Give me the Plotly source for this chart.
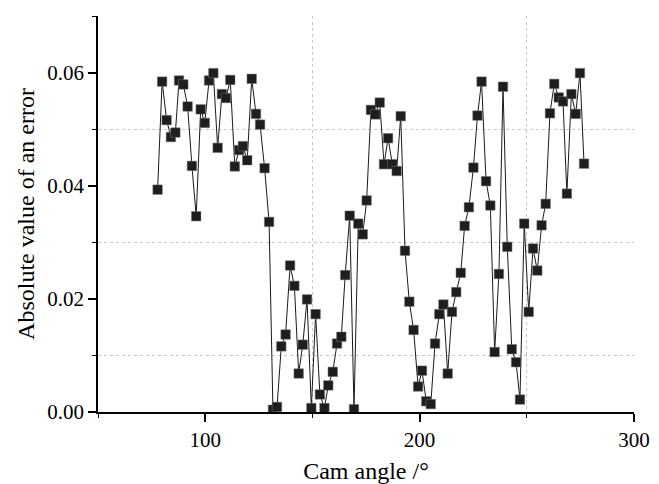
import plotly.graph_objects as go

cam_angle = [77.8, 79.9, 82.0, 84.0, 86.1, 87.8, 89.8, 91.8, 93.8, 95.8,
             97.9, 99.8, 101.8, 103.8, 105.8, 107.8, 109.7, 111.7, 113.8, 115.8,
             117.6, 119.6, 121.7, 123.7, 125.6, 127.7, 129.8, 131.6, 133.5, 135.5,
             137.5, 139.6, 141.6, 143.6, 145.5, 147.5, 149.5, 151.5, 153.5, 155.6,
             157.4, 159.5, 161.5, 163.5, 165.3, 167.4, 169.4, 171.4, 173.5, 175.3,
             177.3, 179.3, 181.4, 183.4, 185.3, 187.3, 189.3, 191.2, 193.2, 195.2,
             197.2, 199.3, 201.1, 203.1, 205.2, 207.2, 209.2, 211.1, 213.1, 215.1,
             217.1, 219.2, 221.0, 223.0, 225.1, 227.0, 228.9, 231.0, 233.0, 235.0,
             237.0, 238.9, 240.9, 243.0, 245.0, 246.8, 248.8, 250.9, 252.9, 254.9,
             256.9, 258.8, 260.8, 262.8, 264.9, 266.9, 268.7, 270.8, 272.8, 274.8,
             276.7]

abs_error = [0.0393, 0.0584, 0.0516, 0.0486, 0.0494, 0.0586, 0.0579, 0.0540, 0.0435, 0.0346,
             0.0535, 0.0511, 0.0586, 0.0599, 0.0467, 0.0562, 0.0555, 0.0587, 0.0434, 0.0463,
             0.0470, 0.0445, 0.0589, 0.0527, 0.0508, 0.0431, 0.0336, 0.0004, 0.0009, 0.0116,
             0.0137, 0.0259, 0.0223, 0.0068, 0.0119, 0.0199, 0.0007, 0.0173, 0.0031, 0.0007,
             0.0047, 0.0071, 0.0121, 0.0133, 0.0242, 0.0347, 0.0005, 0.0333, 0.0314, 0.0374,
             0.0534, 0.0526, 0.0547, 0.0438, 0.0484, 0.0438, 0.0426, 0.0523, 0.0285, 0.0195,
             0.0145, 0.0045, 0.0073, 0.0019, 0.0014, 0.0121, 0.0173, 0.0190, 0.0068, 0.0177,
             0.0212, 0.0246, 0.0329, 0.0362, 0.0432, 0.0524, 0.0584, 0.0408, 0.0365, 0.0106,
             0.0244, 0.0575, 0.0292, 0.0111, 0.0088, 0.0022, 0.0333, 0.0177, 0.0289, 0.0250,
             0.0330, 0.0368, 0.0528, 0.0580, 0.0556, 0.0549, 0.0386, 0.0562, 0.0527, 0.0599,
             0.0439]

x_title = "Cam angle /°"
y_title = "Absolute value of an error"

font_family = "Liberation Serif, Times New Roman, serif"

fig = go.Figure()
fig.add_trace(go.Scatter(
    x=cam_angle, y=abs_error, mode="lines+markers",
    line=dict(color="#1a1a1a", width=1),
    marker=dict(symbol="square", size=9.5, color="#1e1e1e",
                line=dict(color="#777777", width=0.5)),
    showlegend=False,
))

axis_common = dict(
    showline=True, linecolor="black", linewidth=1.5,
    ticks="outside", ticklen=8, tickwidth=1.5, tickcolor="black",
    showgrid=False, zeroline=False, mirror=False, automargin=False,
    tickfont=dict(family=font_family, size=21, color="black"),
)

fig.update_xaxes(
    range=[50, 300], tick0=0, dtick=100,
    minor=dict(dtick=50, tick0=0, ticks="outside", ticklen=4, tickcolor="black", tickwidth=1.2,
               showgrid=True, gridcolor="#c8c8c8", griddash="dot", gridwidth=1),
    title=dict(text=x_title, font=dict(family=font_family, size=24, color="black"), standoff=18),
    **axis_common,
)
fig.update_yaxes(
    range=[0, 0.07], tick0=0, dtick=0.02, tickformat=".2f",
    minor=dict(dtick=0.01, tick0=0, ticks="outside", ticklen=4, tickcolor="black", tickwidth=1.2,
               showgrid=True, gridcolor="#c8c8c8", griddash="dot", gridwidth=1),
    title=dict(text=y_title, font=dict(family=font_family, size=24, color="black"), standoff=6),
    **axis_common,
)

fig.update_layout(
    width=659, height=484,
    margin=dict(l=98, r=25, t=16, b=72),
    paper_bgcolor="white", plot_bgcolor="white",
    font=dict(family=font_family, color="black"),
)

# remove the page's default 8px body margin so the 659x484 figure fills the window exactly
fig.write_html(
    "out.html",
    config={"displayModeBar": False},
    post_script="document.body.style.margin='0';document.body.style.overflow='hidden';",
)
